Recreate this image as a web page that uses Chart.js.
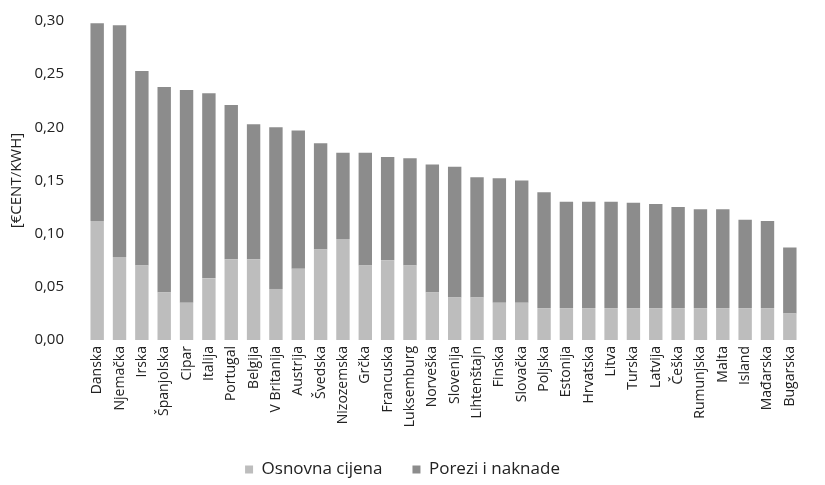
<!DOCTYPE html>
<html lang="hr">
<head>
  <meta charset="UTF-8">
  <title>Cijena električne energije</title>
  <script src="https://cdn.jsdelivr.net/npm/chart.js"></script>
  <style>
    html, body { margin: 0; padding: 0; background: #fff; overflow: hidden; }
    #okvir { width: 825px; height: 495px; margin-top: -10px; }
  </style>
</head>
<body>
  <div id="okvir"><canvas id="graf"></canvas></div>
  <script>
    const drzave = ["Danska", "Njemačka", "Irska", "Španjolska", "Cipar", "Italija", "Portugal", "Belgija",
      "V Britanija", "Austrija", "Švedska", "Nizozemska", "Grčka", "Francuska", "Luksemburg", "Norveška",
      "Slovenija", "Lihtenštajn", "Finska", "Slovačka", "Poljska", "Estonija", "Hrvatska", "Litva",
      "Turska", "Latvija", "Češka", "Rumunjska", "Malta", "Island", "Mađarska", "Bugarska"];

    const osnovnaCijena = [0.112, 0.078, 0.070, 0.045, 0.035, 0.058, 0.076, 0.076,
      0.048, 0.067, 0.085, 0.095, 0.070, 0.075, 0.070, 0.045,
      0.040, 0.040, 0.035, 0.035, 0.030, 0.030, 0.030, 0.030,
      0.030, 0.030, 0.030, 0.030, 0.030, 0.030, 0.030, 0.025];

    const poreziNaknade = [0.186, 0.218, 0.183, 0.193, 0.200, 0.174, 0.145, 0.127,
      0.152, 0.130, 0.100, 0.081, 0.106, 0.097, 0.101, 0.120,
      0.123, 0.113, 0.117, 0.115, 0.109, 0.100, 0.100, 0.100,
      0.099, 0.098, 0.095, 0.093, 0.093, 0.083, 0.082, 0.062];

    const yTicks = [0, 0.05, 0.10, 0.15, 0.20, 0.25, 0.30];

    const font = "Open Sans";

    new Chart(document.getElementById("graf"), {
      type: "bar",
      data: {
        labels: drzave,
        datasets: [
          { label: "Osnovna cijena", data: osnovnaCijena, backgroundColor: "#bdbdbd", barPercentage: 0.6, categoryPercentage: 1 },
          { label: "Porezi i naknade", data: poreziNaknade, backgroundColor: "#8c8c8c", barPercentage: 0.6, categoryPercentage: 1 }
        ]
      },
      options: {
        responsive: true,
        maintainAspectRatio: false,
        animation: false,
        layout: { padding: { top: 0, right: 24, left: 4, bottom: -3 } },
        plugins: {
          tooltip: { enabled: false },
          legend: {
            position: "bottom",
            labels: { font: { family: font, size: 17 }, color: "#222", boxWidth: 8, boxHeight: 8, padding: 30 }
          }
        },
        scales: {
          x: {
            stacked: true,
            afterFit: s => { s.height = 91; },
            grid: { display: false, drawTicks: false },
            border: { display: false },
            ticks: { minRotation: 90, maxRotation: 90, autoSkip: false, color: "#222", padding: 6,
              font: { family: font, size: 14 } }
          },
          y: {
            stacked: true,
            min: 0,
            max: 0.30,
            afterBuildTicks: axis => { axis.ticks = yTicks.map(v => ({ value: v })); },
            afterFit: s => { s.width = 82; },
            grid: { display: false, drawTicks: false },
            border: { display: false },
            title: { display: true, text: "[€CENT/KWH]", color: "#222", font: { family: font, size: 15 } },
            ticks: { color: "#222", padding: 22, font: { family: font, size: 15 },
              callback: v => v.toFixed(2).replace(".", ",") }
          }
        }
      }
    });
  </script>
</body>
</html>
